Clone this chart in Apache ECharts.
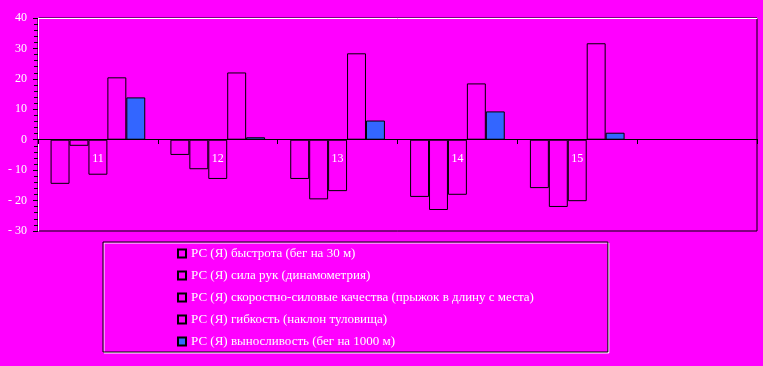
<!DOCTYPE html>
<html><head><meta charset="utf-8">
<script src="https://cdn.jsdelivr.net/npm/echarts@6/dist/echarts.min.js"></script>
<style>html,body{margin:0;padding:0;background:#ff00ff;}#c{width:763px;height:366px;}</style>
</head><body><div id="c"></div>
<script>
const categories = ['11', '12', '13', '14', '15', ''];
const seriesNames = [
  'РС (Я) быстрота (бег на 30 м)',
  'РС (Я) сила рук (динамометрия)',
  'РС (Я) скоростно-силовые качества (прыжок в длину с места)',
  'РС (Я) гибкость (наклон туловища)',
  'РС (Я) выносливость (бег на 1000 м)'
];
const speed = [-14.5, -5.0, -12.9, -18.8, -15.9];
const armStrength = [-2.0, -9.7, -19.6, -23.1, -22.1];
const jump = [-11.5, -12.9, -16.9, -18.1, -20.2];
const flexibility = [20.5, 22.1, 28.4, 18.5, 31.7];
const endurance = [13.9, 0.8, 6.3, 9.3, 2.3];
const yTicks = { min: -30, max: 40, interval: 10 };

const font = 'Liberation Serif';
const txt = { color: '#ffffff', fontFamily: font, fontSize: 12, textShadowColor: '#444', textShadowOffsetX: 1, textShadowOffsetY: 1, textShadowBlur: 0 };
const seriesData = [speed, armStrength, jump, flexibility, endurance];
const fills = ['#ff00ff', '#ff00ff', '#ff00ff', '#ff00ff', '#3366ff'];

const chart = echarts.init(document.getElementById('c'));
chart.setOption({
  backgroundColor: '#ff00ff',
  animation: false,
  grid: { left: 38, right: 6, top: 18, bottom: 135, show: true, borderColor: '#000', borderWidth: 1, backgroundColor: 'transparent' },
  legend: {
    orient: 'vertical', left: 103, top: 242,
    padding: [5, 74, 4, 74], itemGap: 9, itemWidth: 8, itemHeight: 8,
    backgroundColor: '#ff00ff', borderColor: '#000', borderWidth: 1,
    shadowColor: '#ffffff', shadowOffsetX: 1, shadowOffsetY: 1, shadowBlur: 0,
    textStyle: Object.assign({}, txt, { fontSize: 13 }),
    data: seriesNames.map(n => ({ name: n, icon: 'rect' }))
  },
  xAxis: [{
    type: 'category', data: categories, boundaryGap: true, position: 'bottom',
    offset: -92, z: 10,
    axisLine: { onZero: false, lineStyle: { color: '#000', width: 1 } },
    axisTick: { show: true, length: 5, lineStyle: { color: '#000' } },
    axisLabel: Object.assign({ margin: 14, interval: 0 }, txt),
    splitLine: { show: false }
  }, {
    type: 'category', data: categories, position: 'top',
    axisLine: { onZero: false, lineStyle: { color: '#fff', width: 1 } },
    axisTick: { show: false }, axisLabel: { show: false }
  }],
  yAxis: {
    type: 'value', min: yTicks.min, max: yTicks.max, interval: yTicks.interval,
    axisLine: { show: true, lineStyle: { color: '#fff', width: 1 } },
    axisTick: { show: true, length: 5, lineStyle: { color: '#000' } },
    minorTick: { show: true, splitNumber: 5, length: 4, lineStyle: { color: '#000' } },
    splitLine: { show: false },
    axisLabel: Object.assign({ margin: 11, formatter: v => v < 0 ? '- ' + Math.abs(v) : String(v) }, txt)
  },
  series: seriesNames.map((n, i) => ({
    name: n, type: 'bar', data: seriesData[i], z: 2,
    barGap: '0%', barCategoryGap: '21%',
    itemStyle: { color: fills[i], borderColor: '#000', borderWidth: 1 }
  }))
});
</script></body></html>
